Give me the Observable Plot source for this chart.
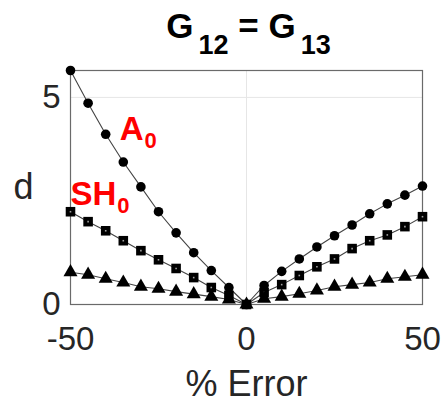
<!DOCTYPE html>
<html>
<head>
<meta charset="utf-8">
<script src="https://cdn.jsdelivr.net/npm/d3@7"></script>
<script src="https://cdn.jsdelivr.net/npm/@observablehq/plot@0.6"></script>
<style>
  html, body { margin: 0; padding: 0; background: #fff; }
  svg { display: block; }
</style>
</head>
<body>
<div id="chart"></div>
<script>
// % error values (x)
const errorPct = [-50, -45, -40, -35, -30, -25, -20, -15, -10, -5, 0, 5, 10, 15, 20, 25, 30, 35, 40, 45, 50];
// series d values
const a0 = [5.65, 4.86, 4.11, 3.44, 2.84, 2.24, 1.73, 1.25, 0.82, 0.41, 0, 0.46, 0.80, 1.10, 1.39, 1.66, 1.92, 2.19, 2.43, 2.64, 2.86];
const sh0 = [2.24, 2.00, 1.78, 1.54, 1.30, 1.08, 0.87, 0.65, 0.41, 0.22, 0, 0.29, 0.48, 0.70, 0.91, 1.10, 1.35, 1.54, 1.68, 1.88, 2.12];
const s0 = [0.78, 0.72, 0.62, 0.53, 0.43, 0.38, 0.31, 0.25, 0.19, 0.12, 0, 0.14, 0.19, 0.26, 0.34, 0.43, 0.48, 0.53, 0.62, 0.67, 0.72];

// tick labels
const xTicks = [-50, 0, 50];
const yTicks = [0, 5];

// text
const titleParts = ["G", "12", " = G", "13"];
const labelParts = [["A", "0"], ["SH", "0"]];
const labelX = [-36, -50];
const labelY = [3.97, 2.4];
const xLabel = "% Error";
const yLabel = "d";

const rows = (vals, name) => errorPct.map((e, i) => ({x: e, y: vals[i], s: name}));
const dA = rows(a0, "A0"), dSH = rows(sh0, "SH0"), dS = rows(s0, "S0");
const labels = labelParts.map((p, i) => ({x: labelX[i], y: labelY[i], parts: p}));

const FONT = "Liberation Sans, Arial, Helvetica, sans-serif";

// render helper: rebuild text with subscript tspans
function subRender(getParts, mainPx, subPx, shiftPx, gapPx) {
  return function(index, scales, values, dims, ctx, next) {
    const g = next(index, scales, values, dims, ctx);
    d3.select(g).selectAll("text").each(function() {
      const i = d3.select(this).datum();
      const parts = getParts(i);
      const t = d3.select(this);
      t.text(null);
      let lowered = false;
      parts.forEach((p, k) => {
        const isSub = k % 2 === 1;
        const ts = t.append("tspan").text(p);
        if (isSub) {
          ts.attr("font-size", subPx).attr("dy", shiftPx).attr("dx", gapPx);
          lowered = true;
        } else {
          ts.attr("font-size", mainPx);
          if (lowered) { ts.attr("dy", -shiftPx); lowered = false; }
        }
      });
    });
    return g;
  };
}

const plot = Plot.plot({
  width: 443,
  height: 402,
  marginLeft: 70,
  marginRight: 21,
  marginTop: 70,
  marginBottom: 98,
  style: {fontFamily: FONT, background: "#fff"},
  x: {domain: [-50, 50]},
  y: {domain: [0, 5.65]},
  marks: [
    Plot.ruleY([5], {stroke: "#e6e6e6", strokeWidth: 1}),
    Plot.ruleX([0], {stroke: "#e6e6e6", strokeWidth: 1}),
    Plot.frame({stroke: "#6a6a6a", strokeWidth: 1.2}),
    Plot.axisX({ticks: xTicks, tickSize: 0, tickPadding: 22, fontSize: 33, color: "#262626", label: null, tickFormat: d => String(d)}),
    Plot.axisY({ticks: yTicks, tickSize: 0, tickPadding: 10, fontSize: 33, color: "#262626", label: null, tickFormat: d => String(d)}),
    Plot.line(dA, {x: "x", y: "y", stroke: "#444", strokeWidth: 1.1}),
    Plot.line(dSH, {x: "x", y: "y", stroke: "#444", strokeWidth: 1.1}),
    Plot.line(dS, {x: "x", y: "y", stroke: "#444", strokeWidth: 1.1}),
    Plot.dot(dA, {x: "x", y: "y", r: 4.8, fill: "#000", symbol: "circle"}),
    Plot.dot(dSH, {x: "x", y: "y", r: 5.4, fill: "#000", symbol: "square"}),
    Plot.dot(dSH, {x: "x", y: "y", r: 0.9, fill: "#a0a0a0", symbol: "square"}),
    Plot.dot(dS, {x: "x", y: "y", r: 5.2, fill: "#000", symbol: "triangle"}),
    // labels with subscripts
    Plot.text(labels, {
      x: "x", y: "y", text: d => d.parts[0], fill: "#ff0000", fontWeight: "bold",
      fontSize: 33, textAnchor: "start", lineAnchor: "bottom",
      render: subRender(i => labels[i].parts, 33, 22, 8, 1)
    }),
    // title
    Plot.text([titleParts], {
      frameAnchor: "top", text: d => d.join(""), fill: "#000", fontWeight: "bold",
      fontSize: 35, textAnchor: "middle", lineAnchor: "bottom", dy: -33, dx: 2,
      render: subRender(() => titleParts, 35, 27, 16, 5)
    }),
    // axis labels
    Plot.text([xLabel], {frameAnchor: "bottom", text: d => d, fontSize: 36, fill: "#262626",
      textAnchor: "middle", lineAnchor: "bottom", dy: 91}),
    Plot.text([yLabel], {frameAnchor: "left", text: d => d, fontSize: 36, fill: "#262626",
      textAnchor: "middle", lineAnchor: "middle", dx: -47})
  ]
});
document.getElementById("chart").appendChild(plot);
</script>
</body>
</html>
